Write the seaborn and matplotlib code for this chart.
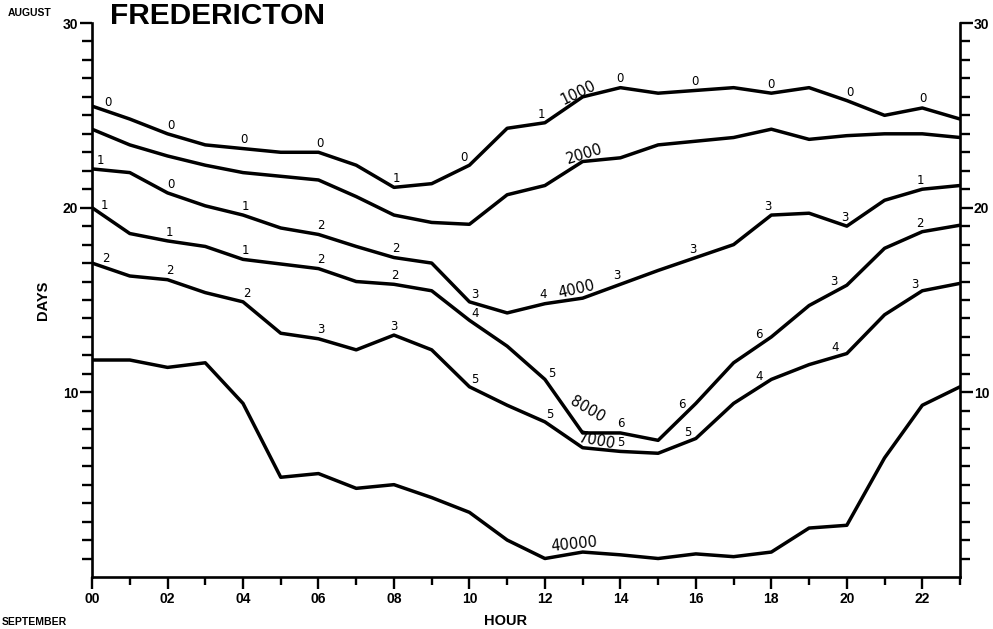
import numpy as np
import pandas as pd
import matplotlib
matplotlib.use("Agg")
import matplotlib.pyplot as plt
import seaborn as sns

# ---------------- data ----------------
hours = list(range(24))
names = ["1000", "2000", "4000", "8000", "7000", "40000"]

vis_1000 = [25.5, 24.8, 24.0, 23.4, 23.2, 23.0, 23.0, 22.3, 21.1, 21.3, 22.3, 24.3,
            24.6, 26.0, 26.5, 26.2, 26.35, 26.5, 26.2, 26.5, 25.8, 25.0, 25.4, 24.8]
vis_2000 = [24.25, 23.4, 22.8, 22.3, 21.9, 21.7, 21.5, 20.6, 19.6, 19.2, 19.1, 20.7,
            21.2, 22.5, 22.7, 23.4, 23.6, 23.8, 24.25, 23.7, 23.9, 24.0, 24.0, 23.8]
vis_4000 = [22.1, 21.9, 20.8, 20.1, 19.6, 18.9, 18.55, 17.9, 17.3, 17.0, 14.9, 14.3,
            14.8, 15.1, 15.85, 16.6, 17.3, 18.0, 19.6, 19.7, 19.0, 20.4, 21.0, 21.2]
vis_8000 = [20.0, 18.6, 18.2, 17.9, 17.2, 16.95, 16.7, 16.0, 15.85, 15.5, 13.9, 12.5,
            10.7, 7.8, 7.8, 7.4, 9.4, 11.6, 13.0, 14.7, 15.8, 17.8, 18.7, 19.05]
vis_7000 = [17.0, 16.3, 16.1, 15.4, 14.9, 13.2, 12.9, 12.3, 13.1, 12.3, 10.3, 9.3,
            8.4, 7.0, 6.8, 6.7, 7.5, 9.4, 10.7, 11.5, 12.1, 14.2, 15.5, 15.9]
vis_40000 = [11.75, 11.75, 11.35, 11.6, 9.4, 5.4, 5.6, 4.8, 5.0, 4.3, 3.5, 2.0,
             1.0, 1.35, 1.2, 1.0, 1.25, 1.1, 1.35, 2.65, 2.8, 6.45, 9.3, 10.3]
series = [vis_1000, vis_2000, vis_4000, vis_8000, vis_7000, vis_40000]

# small number labels along curves (hour, text)
lab_1000_h = [0.35, 2, 4, 6, 8, 10, 12, 14, 16, 18, 20, 22]
lab_1000_t = ["0", "0", "0", "0", "1", "0", "1", "0", "0", "0", "0", "0"]
lab_4000_h = [0.2, 2, 4, 6, 8, 10, 12, 14, 16, 18, 20, 22]
lab_4000_t = ["1", "0", "1", "2", "2", "3", "4", "3", "3", "3", "3", "1"]
lab_8000_h = [0.2, 2, 4, 6, 8, 10, 12, 14, 15.8, 17.8, 19.8, 22]
lab_8000_t = ["1", "1", "1", "2", "2", "4", "5", "6", "6", "6", "3", "2"]
lab_7000_h = [0.3, 2, 4, 6, 8, 10, 12, 14, 15.9, 17.8, 19.8, 21.9]
lab_7000_t = ["2", "2", "2", "3", "3", "5", "5", "5", "5", "4", "4", "3"]

# curve name labels: (name, hour, offset px, rotation or None=auto)
name_labels = [("1000", 12.95, 6, None), ("2000", 13.1, 7, None),
               ("4000", 12.9, 10, None), ("8000", 12.8, 18, -30),
               ("7000", 13.35, 8, None), ("40000", 12.8, 9, None)]

xtick_labels = ["00", "02", "04", "06", "08", "10", "12", "14", "16", "18", "20", "22"]

# ---------------- figure ----------------
sns.set_style("ticks")
plt.rcParams["font.family"] = ["DejaVu Sans"]
plt.rcParams["text.color"] = "black"
plt.rcParams["axes.labelcolor"] = "black"
plt.rcParams["xtick.color"] = "black"
plt.rcParams["ytick.color"] = "black"

df = pd.DataFrame({
    "hour": hours * len(names),
    "days": sum(series, []),
    "curve": sum([[n] * len(hours) for n in names], []),
})

fig = plt.figure(figsize=(9.93, 6.29), dpi=100)
ax = fig.add_axes([0.0927, 0.0827, 0.8741, 0.8807])

sns.lineplot(data=df, x="hour", y="days", hue="curve", hue_order=names,
             palette=["black"] * len(names), linewidth=2.5, legend=False, ax=ax,
             sort=False)

ax.set_xlim(0, 23)
ax.set_ylim(0, 30)
for s in ["left", "right", "bottom"]:
    ax.spines[s].set_linewidth(1.9)
    ax.spines[s].set_color("black")
ax.spines["top"].set_visible(False)

ax.set_xticks(list(range(0, 23, 2)))
ax.set_xticklabels(xtick_labels)
ax.set_xticks(list(range(1, 24, 2)), minor=True)
ax.set_yticks([10, 20, 30])
ax.set_yticklabels(["10", "20", "30"])
ax.set_yticks(list(range(1, 30)), minor=True)
ax.tick_params(axis="x", which="major", direction="out", length=8.5, width=1.7, pad=2,
               labelsize=10)
ax.tick_params(axis="x", which="minor", direction="out", length=6, width=1.7)
ax.tick_params(axis="y", which="both", direction="out", left=True, right=True,
               labelleft=True, labelright=True, width=1.7)
ax.tick_params(axis="y", which="major", length=9, pad=1, labelsize=10)
ax.tick_params(axis="y", which="minor", length=7.5)
for lab in ax.get_xticklabels() + ax.get_yticklabels():
    lab.set_fontweight("bold")
    lab.set_family("Liberation Sans")

ax.set_xlabel("HOUR", fontsize=10.5, fontweight="bold", family="Liberation Sans")
ax.set_ylabel("DAYS", fontsize=10.5, fontweight="bold", family="Liberation Sans")
ax.xaxis.set_label_coords(0.476, -0.066)
ax.yaxis.set_label_coords(-0.048, 0.5)

fig.text(110 / 993, 1 - 16 / 629, "FREDERICTON", fontsize=21.5, fontweight="bold",
         family="Liberation Sans", ha="left", va="center")
fig.text(8 / 993, 1 - 13 / 629, "AUGUST", fontsize=7.5, fontweight="bold",
         family="Liberation Sans", ha="left", va="center")
fig.text(2 / 993, 1 - 627 / 629, "SEPTEMBER", fontsize=7.5, fontweight="bold",
         family="Liberation Sans", ha="left", va="bottom")


# ---------------- curve labels ----------------
def place(values, h, text, off, rot, size):
    hx = np.array(hours, dtype=float)
    v = np.array(values, dtype=float)
    h0, h1 = max(h - 0.5, 0), min(h + 0.5, 23)
    p0 = ax.transData.transform((h0, np.interp(h0, hx, v)))
    p1 = ax.transData.transform((h1, np.interp(h1, hx, v)))
    d = p1 - p0
    d = d / np.hypot(*d)
    n = np.array([-d[1], d[0]])
    if n[1] < 0:
        n = -n
    pc = ax.transData.transform((h, np.interp(h, hx, v))) + n * off
    if rot is None:
        rot = np.degrees(np.arctan2(d[1], d[0]))
    xy = ax.transData.inverted().transform(pc)
    ax.text(xy[0], xy[1], text, fontsize=size, ha="center", va="center",
            rotation=rot, rotation_mode="anchor")


for vals, hs, ts in [(vis_1000, lab_1000_h, lab_1000_t), (vis_4000, lab_4000_h, lab_4000_t),
                     (vis_8000, lab_8000_h, lab_8000_t), (vis_7000, lab_7000_h, lab_7000_t)]:
    for h, t in zip(hs, ts):
        place(vals, h, t, 9, 0, 8.5)

for name, h, off, rot in name_labels:
    place(series[names.index(name)], h, name, off, rot, 10.5)

fig.savefig("out.png", dpi=100)
